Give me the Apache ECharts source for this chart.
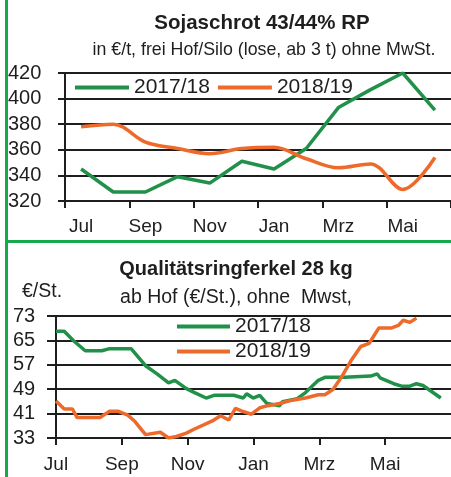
<!DOCTYPE html>
<html>
<head>
<meta charset="utf-8">
<script src="https://cdn.jsdelivr.net/npm/echarts@6/dist/echarts.min.js"></script>
<style>
  html, body { margin: 0; padding: 0; background: #fff; }
  #wrap { position: relative; width: 451px; height: 477px; overflow: hidden; }
  #chart { position: absolute; left: 0; top: 0; width: 451px; height: 477px; }
  .vline { position: absolute; left: 5px; top: 0; width: 3px; height: 477px; background: #17a84c; }
  .hline { position: absolute; left: 5px; top: 240px; width: 446px; height: 3px; background: #17a84c; }
</style>
</head>
<body>
<div id="wrap">
  <div class="vline"></div>
  <div class="hline"></div>
  <div id="chart"></div>
</div>
<script>
// Sojaschrot, Monatswerte Jul..Jun
const monate = ['Jul', 'Aug', 'Sep', 'Okt', 'Nov', 'Dez', 'Jan', 'Feb', 'Mrz', 'Apr', 'Mai', 'Jun'];
const soja1718 = [345, 327, 327, 339, 334, 351, 345, 361, 393, 407, 420, 391];
const soja1819 = [378, 380, 366, 361, 357, 361, 362, 353, 346, 349, 329, 354];

// Ferkel, x = Monate ab Anfang Juli
const ferkelX1718 = [0, 0.25, 0.54, 0.89, 1.39, 1.63, 2.28, 2.72, 3.07, 3.42, 3.61, 3.96, 4.21, 4.56, 4.8, 5.4,
  5.69, 5.79, 5.99, 6.19, 6.41, 6.79, 6.88, 7.33, 7.58, 7.97, 8.17, 8.77, 9.56, 9.76, 9.86, 10.26, 10.5, 10.75,
  10.95, 11.15, 11.69];
const ferkel1718 = [68.0, 68.0, 64.8, 61.6, 61.6, 62.3, 62.3, 56.7, 54.0, 51.1, 51.9, 49.2, 47.9, 46.1, 47.0, 47.0,
  46.1, 47.5, 46.1, 47.0, 44.3, 43.6, 44.9, 45.9, 47.9, 51.9, 52.9, 52.9, 53.3, 54.0, 52.6, 50.8, 50.0, 50.0,
  50.8, 50.2, 46.1];
const ferkelX1819 = [0, 0.25, 0.5, 0.64, 1.34, 1.63, 1.88, 2.18, 2.4, 2.72, 3.17, 3.42, 3.66, 3.96, 4.16, 4.75,
  5.0, 5.25, 5.45, 5.65, 5.94, 6.19, 6.44, 6.79, 7.18, 7.58, 7.97, 8.17, 8.42, 8.67, 8.96, 9.26, 9.51, 9.81,
  10.2, 10.4, 10.55, 10.75, 10.95];
const ferkel1819 = [45.1, 42.5, 42.5, 39.7, 39.7, 41.8, 41.8, 40.5, 38.4, 34.1, 34.9, 33.0, 33.5, 34.6, 35.7, 38.6,
  40.3, 38.9, 42.7, 41.8, 40.8, 42.9, 43.6, 44.3, 45.4, 46.1, 47.2, 47.2, 49.0, 52.9, 58.3, 63.0, 64.0, 69.1,
  69.1, 69.9, 71.6, 70.9, 72.3];
const ferkelMonate = ['Jul', 'Sep', 'Nov', 'Jan', 'Mrz', 'Mai'];

const GREEN = '#21914a';
const ORANGE = '#ee6a2a';
const INK = '#1e1e1e';
const FONT = '"Liberation Sans", Arial, sans-serif';

const pairs = (xs, ys) => xs.map((x, i) => [x, ys[i]]);

const gridLine = { show: true, lineStyle: { color: INK, width: 2 } };

const chart = echarts.init(document.getElementById('chart'));

chart.setOption({
  animation: false,
  color: [GREEN, ORANGE],
  textStyle: { fontFamily: FONT },
  title: [
    { text: 'Sojaschrot 43/44% RP', left: 262, top: 12, textAlign: 'center', padding: 0,
      textStyle: { fontFamily: FONT, fontWeight: 'bold', fontSize: 20.5, lineHeight: 22, color: INK } },
    { text: 'in €/t, frei Hof/Silo (lose, ab 3 t) ohne MwSt.', left: 264, top: 40, textAlign: 'center', padding: 0,
      textStyle: { fontFamily: FONT, fontWeight: 'normal', fontSize: 17.8, lineHeight: 20, color: INK } },
    { text: 'Qualitätsringferkel 28 kg', left: 236, top: 258, textAlign: 'center', padding: 0,
      textStyle: { fontFamily: FONT, fontWeight: 'bold', fontSize: 20, lineHeight: 22, color: INK } },
    { text: '€/St.', left: 22, top: 282, padding: 0,
      textStyle: { fontFamily: FONT, fontWeight: 'normal', fontSize: 19.5, lineHeight: 20, color: INK } },
    { text: 'ab Hof (€/St.), ohne  Mwst,', left: 236, top: 288, textAlign: 'center', padding: 0,
      textStyle: { fontFamily: FONT, fontWeight: 'normal', fontSize: 19.5, lineHeight: 20, color: INK } }
  ],
  legend: [
    { data: ['2017/18', '2018/19'], left: 75, top: 76, padding: 0, itemGap: 8,
      icon: 'rect', itemWidth: 54, itemHeight: 4,
      textStyle: { fontFamily: FONT, fontSize: 21, lineHeight: 23, color: INK } },
    { data: ['2017/18', '2018/19'], orient: 'vertical', left: 177, top: 316, padding: 0, itemGap: 4,
      icon: 'rect', itemWidth: 53, itemHeight: 4,
      textStyle: { fontFamily: FONT, fontSize: 21, lineHeight: 21, color: INK } }
  ],
  grid: [
    { left: 65, top: 73, width: 392, height: 128 },
    { left: 56, top: 316, width: 402, height: 122 }
  ],
  xAxis: [
    { type: 'category', gridIndex: 0, data: monate, boundaryGap: true,
      axisLine: { lineStyle: { color: INK, width: 2 } },
      axisTick: { show: true, interval: 1, length: 7, lineStyle: { color: INK, width: 2 } },
      axisLabel: { interval: 1, margin: 16, color: INK, fontFamily: FONT, fontSize: 19 } },
    { type: 'value', gridIndex: 1, min: 0, max: 12, interval: 2,
      splitLine: { show: false },
      axisLine: { lineStyle: { color: INK, width: 2 } },
      axisTick: { show: true, length: 7, lineStyle: { color: INK, width: 2 } },
      axisLabel: { margin: 17, color: INK, fontFamily: FONT, fontSize: 19, showMaxLabel: false,
        formatter: v => ferkelMonate[v / 2] || '' } }
  ],
  yAxis: [
    { type: 'value', gridIndex: 0, min: 320, max: 420, interval: 20,
      axisLine: { show: true, lineStyle: { color: INK, width: 2 } },
      axisTick: { show: true, length: 7, lineStyle: { color: INK, width: 2 } },
      splitLine: gridLine,
      axisLabel: { align: 'left', margin: 57, color: INK, fontFamily: FONT, fontSize: 20 } },
    { type: 'value', gridIndex: 1, min: 33, max: 73, interval: 8,
      axisLine: { show: true, lineStyle: { color: INK, width: 2 } },
      axisTick: { show: true, length: 9, lineStyle: { color: INK, width: 2 } },
      splitLine: gridLine,
      axisLabel: { align: 'left', margin: 43, color: INK, fontFamily: FONT, fontSize: 20 } }
  ],
  series: [
    { name: '2017/18', type: 'line', xAxisIndex: 0, yAxisIndex: 0, data: soja1718,
      symbol: 'none', lineStyle: { width: 3.5, color: GREEN }, itemStyle: { color: GREEN } },
    { name: '2018/19', type: 'line', xAxisIndex: 0, yAxisIndex: 0, data: soja1819, smooth: 0.35,
      symbol: 'none', lineStyle: { width: 3.5, color: ORANGE }, itemStyle: { color: ORANGE } },
    { name: '2017/18', type: 'line', xAxisIndex: 1, yAxisIndex: 1, data: pairs(ferkelX1718, ferkel1718),
      symbol: 'none', lineStyle: { width: 3.5, color: GREEN }, itemStyle: { color: GREEN } },
    { name: '2018/19', type: 'line', xAxisIndex: 1, yAxisIndex: 1, data: pairs(ferkelX1819, ferkel1819),
      symbol: 'none', lineStyle: { width: 3.5, color: ORANGE }, itemStyle: { color: ORANGE } }
  ]
});
</script>
</body>
</html>
